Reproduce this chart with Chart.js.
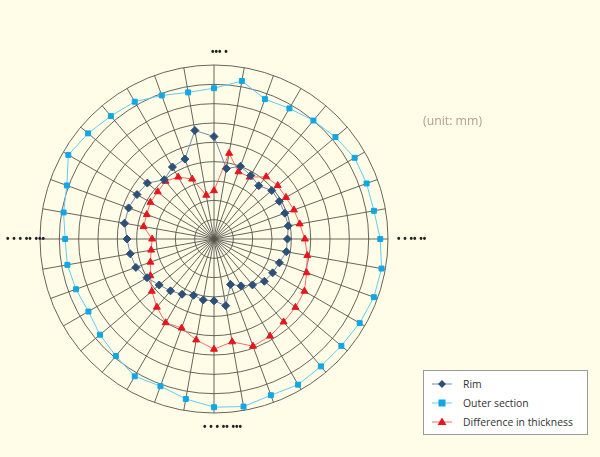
<!DOCTYPE html>
<html>
<head>
<meta charset="utf-8">
<script src="https://cdn.jsdelivr.net/npm/chart.js@4.4.1/dist/chart.umd.min.js"></script>
<style>
  html, body { margin: 0; padding: 0; background: #FFFDE7; }
  #wrap { position: relative; width: 600px; height: 457px; }
  #unit { position: absolute; left: 423px; top: 112px; font: 12.3px "Open Sans", sans-serif; color: #B39E8C; }
  #legend { position: absolute; left: 423px; top: 370px; width: 165px; height: 65px; background: #fff; border: 1px solid #9a9a9a; box-sizing: border-box; font: 10.4px "Open Sans", sans-serif; color: #333; }
  #legend .row { position: absolute; left: 8px; height: 16px; line-height: 16px; }
  #legend svg { position: absolute; left: 0; top: 0; }
  #legend span { position: absolute; left: 31px; white-space: nowrap; }
</style>
</head>
<body>
<div id="wrap">
  <canvas id="polar" width="600" height="457"></canvas>
  <div id="unit">(unit: mm)</div>
  <div id="legend"></div>
</div>
<script>
// --- Data ---
// 36 directions, every 10 degrees clockwise from the top
const cardinalLabels = ['••• •', '• • •• ••', '• • • •• •••', '• • • •• •••'];
const rimValues = [53, 37, 40, 38, 36, 39, 39, 39, 39, 38, 38, 36, 35, 34, 31, 28, 25, 35,
                   32, 32, 31, 33, 35, 37, 40, 43, 44, 45, 47, 47, 46, 45, 40, 43, 44, 57];
const outerValues = [78, 83, 77, 78, 80, 82, 84, 84, 84, 86, 88, 88, 87, 86, 86, 87, 86, 88,
                     87, 84, 81, 82, 79, 77, 75, 76, 77, 77, 79, 81, 87, 85, 83, 82, 79, 77];
const diffValues = [25, 45, 37, 37, 42, 43, 43, 44, 45, 47, 49, 51, 54, 55, 56, 58, 59, 54,
                    57, 53, 49, 50, 46, 42, 38, 35, 33, 32, 37, 37, 38, 38, 39, 37, 33, 23];
const seriesNames = ['Rim', 'Outer section', 'Difference in thickness'];

const directions = [];
for (let i = 0; i < 36; i++) {
  directions.push(i % 9 === 0 ? cardinalLabels[i / 9] : '');
}

// draws the four cardinal labels just outside the outer ring
const cardinalPlugin = {
  id: 'cardinal',
  afterDraw(chart) {
    const r = chart.scales.r;
    const ctx = chart.ctx;
    ctx.save();
    ctx.font = 'bold 10px "Liberation Sans", sans-serif';
    ctx.fillStyle = '#222';
    ctx.textBaseline = 'middle';
    const spots = [
      { i: 0, gap: 13, dx: -3, align: 'left' },
      { i: 9, gap: 9, dx: 0, align: 'left' },
      { i: 18, gap: 14, dx: -11, align: 'left' },
      { i: 27, gap: -5, dx: 0, align: 'right' }
    ];
    spots.forEach(s => {
      const p = r.getPointPosition(s.i, r.drawingArea + s.gap);
      ctx.textAlign = s.align;
      ctx.fillText(directions[s.i], p.x + s.dx, p.y);
    });
    ctx.restore();
  }
};

const ctx = document.getElementById('polar').getContext('2d');
new Chart(ctx, {
  type: 'radar',
  data: {
    labels: directions,
    datasets: [
      {
        label: seriesNames[0], data: rimValues,
        borderColor: '#6E8CAE', borderWidth: 1, fill: false,
        pointStyle: 'rectRot', pointRadius: 4,
        pointBackgroundColor: '#2E5078', pointBorderColor: '#2E5078'
      },
      {
        label: seriesNames[1], data: outerValues,
        borderColor: '#62CBEF', borderWidth: 1, fill: false,
        pointStyle: 'rect', pointRadius: 3.5,
        pointBackgroundColor: '#12A6E4', pointBorderColor: '#12A6E4'
      },
      {
        label: seriesNames[2], data: diffValues,
        borderColor: '#F26B6B', borderWidth: 1, fill: false,
        pointStyle: 'triangle', pointRadius: 4,
        pointBackgroundColor: '#E8141E', pointBorderColor: '#E8141E'
      }
    ]
  },
  options: {
    responsive: false,
    animation: false,
    layout: { padding: { left: 40, right: 212, top: 65, bottom: 44 } },
    scales: {
      r: {
        min: 0, max: 90,
        ticks: { display: false, stepSize: 10 },
        grid: { circular: true, color: '#55554e', lineWidth: 0.9 },
        angleLines: { color: '#55554e', lineWidth: 0.9 },
        pointLabels: { display: false }
      }
    },
    plugins: {
      legend: { display: false },
      tooltip: { enabled: false }
    }
  },
  plugins: [cardinalPlugin]
});

// --- HTML legend ---
const legendIcons = [
  { line: '#6E8CAE', mark: '<path d="M10 3 L14 7 L10 11 L6 7 Z" fill="#2E5078"/>' },
  { line: '#62CBEF', mark: '<rect x="6.5" y="3.5" width="7" height="7" fill="#12A6E4"/>' },
  { line: '#F26B6B', mark: '<path d="M10 2.5 L14.5 10 L5.5 10 Z" fill="#E8141E"/>' }
];
const legendEl = document.getElementById('legend');
seriesNames.forEach((name, i) => {
  const row = document.createElement('div');
  row.className = 'row';
  row.style.top = (5 + i * 19) + 'px';
  row.innerHTML = '<svg width="20" height="14" viewBox="0 0 20 14" style="top:1px">' +
    '<line x1="0" y1="7" x2="20" y2="7" stroke="' + legendIcons[i].line + '" stroke-width="1"/>' +
    legendIcons[i].mark + '</svg><span>' + name + '</span>';
  legendEl.appendChild(row);
});
</script>
</body>
</html>
